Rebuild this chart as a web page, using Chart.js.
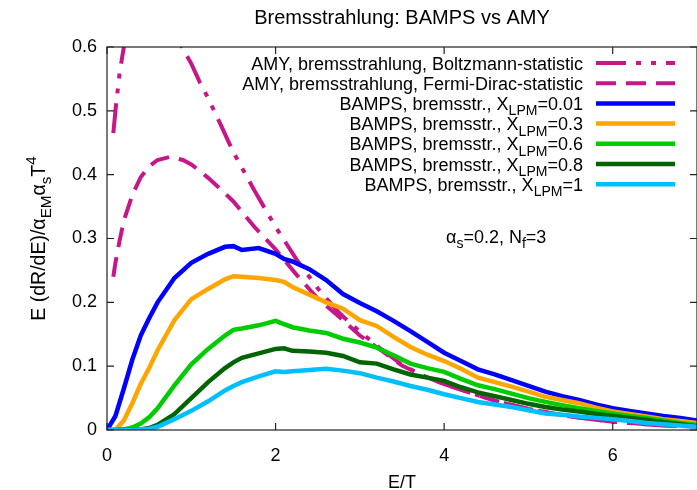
<!DOCTYPE html>
<html>
<head>
<meta charset="utf-8">
<script src="https://cdn.jsdelivr.net/npm/chart.js@4.4.0/dist/chart.umd.min.js"></script>
<style>
  body { margin: 0; background: #fff; }
  canvas { display: block; }
</style>
</head>
<body>
<canvas id="chart" width="697" height="490"></canvas>
<script>
// E/T grid of the BAMPS runs
const eBamps = [0.0, 0.1, 0.2, 0.3, 0.4, 0.5, 0.6, 0.8, 1.0, 1.2, 1.4, 1.5, 1.6, 1.8, 2.0, 2.1, 2.2, 2.4, 2.6, 2.8, 3.0,
                3.2, 3.4, 3.6, 3.8, 4.0, 4.2, 4.4, 4.6, 4.8, 5.0, 5.2, 5.4, 5.6, 5.8, 6.0, 6.2, 6.4, 6.6, 6.8, 7.0];
const bamps001 = [0.0, 0.022, 0.065, 0.110, 0.148, 0.175, 0.200, 0.238, 0.262, 0.276, 0.287, 0.288, 0.282, 0.285, 0.276, 0.268,
                  0.264, 0.252, 0.235, 0.213, 0.199, 0.186, 0.171, 0.155, 0.138, 0.121, 0.108, 0.095, 0.087, 0.078, 0.069, 0.060,
                  0.053, 0.047, 0.040, 0.034, 0.030, 0.026, 0.022, 0.019, 0.015];
const bamps03 = [0.0, 0.0, 0.015, 0.042, 0.072, 0.097, 0.125, 0.172, 0.205, 0.221, 0.236, 0.241, 0.240, 0.238, 0.235, 0.232,
                 0.224, 0.212, 0.200, 0.190, 0.172, 0.163, 0.146, 0.130, 0.118, 0.108, 0.096, 0.082, 0.075, 0.068, 0.060, 0.052,
                 0.047, 0.042, 0.035, 0.029, 0.025, 0.021, 0.017, 0.014, 0.011];
const bamps06 = [0.0, 0.0, 0.001, 0.004, 0.010, 0.020, 0.034, 0.070, 0.103, 0.127, 0.148, 0.157, 0.159, 0.164, 0.171, 0.166,
                 0.161, 0.156, 0.152, 0.143, 0.137, 0.129, 0.117, 0.104, 0.097, 0.091, 0.080, 0.070, 0.064, 0.057, 0.050, 0.044,
                 0.039, 0.034, 0.030, 0.026, 0.022, 0.019, 0.015, 0.011, 0.008];
const bamps08 = [0.0, 0.0, 0.0, 0.0, 0.001, 0.003, 0.008, 0.025, 0.050, 0.075, 0.097, 0.106, 0.113, 0.120, 0.127, 0.128,
                 0.124, 0.123, 0.121, 0.116, 0.106, 0.104, 0.095, 0.087, 0.082, 0.077, 0.067, 0.059, 0.053, 0.047, 0.041, 0.036,
                 0.032, 0.029, 0.025, 0.022, 0.019, 0.016, 0.012, 0.009, 0.006];
const bamps1 = [0.0, 0.0, 0.0, 0.0, 0.001, 0.002, 0.005, 0.017, 0.030, 0.045, 0.062, 0.069, 0.075, 0.084, 0.092, 0.091,
                0.092, 0.094, 0.096, 0.093, 0.089, 0.082, 0.076, 0.069, 0.063, 0.056, 0.050, 0.044, 0.040, 0.036, 0.031, 0.026,
                0.024, 0.021, 0.019, 0.017, 0.014, 0.011, 0.009, 0.007, 0.005];

// AMY curves
const eAmy = [0.075, 0.1, 0.15, 0.2, 0.3, 0.4, 0.5, 0.6, 0.75, 0.9, 1.0, 1.1, 1.2, 1.35, 1.5, 1.75, 2.0, 2.25, 2.5, 2.75,
              3.0, 3.25, 3.5, 3.75, 4.0, 4.25, 4.5, 4.75, 5.0, 5.5, 6.0, 6.5, 7.0];
const amyBoltzmann = [0.465, 0.50, 0.56, 0.60, 0.645, 0.665, 0.672, 0.665, 0.635, 0.597, 0.574, 0.545, 0.52, 0.478, 0.435,
                      0.375, 0.318, 0.267, 0.222, 0.184, 0.154, 0.127, 0.102, 0.085, 0.072, 0.061, 0.050, 0.041, 0.033,
                      0.021, 0.013, 0.008, 0.005];
const amyFermi = [0.24, 0.262, 0.297, 0.328, 0.368, 0.396, 0.413, 0.423, 0.428, 0.423, 0.416, 0.406, 0.395, 0.377, 0.358,
                  0.318, 0.283, 0.243, 0.206, 0.178, 0.148, 0.125, 0.101, 0.085, 0.072, 0.061, 0.050, 0.041, 0.033,
                  0.021, 0.013, 0.008, 0.005];

const xTicks = [0, 2, 4, 6];
const yTicks = [0, 0.1, 0.2, 0.3, 0.4, 0.5, 0.6];

const FONT = '"Liberation Sans", Arial, Helvetica, sans-serif';
const MAGENTA = '#c8168a';

function pts(xs, ys) {
    let out = [];
    for (let i = 0; i < xs.length; i++) out.push({x: xs[i], y: ys[i]});
    return out;
}

function line(label, xs, ys, color, width, dash, order) {
    return {
        label: label,
        data: pts(xs, ys),
        borderColor: color,
        backgroundColor: color,
        borderWidth: width,
        borderDash: dash,
        pointRadius: 0,
        tension: 0,
        fill: false,
        order: order
    };
}

// split "_{..}" / "^{..}" into pieces
function parts(str) {
    let out = [], re = /([_^])\{([^}]*)\}/g, last = 0, m;
    while ((m = re.exec(str))) {
        if (m.index > last) out.push({t: str.slice(last, m.index), k: 0});
        out.push({t: m[2], k: m[1] === '_' ? 1 : -1});
        last = re.lastIndex;
    }
    if (last < str.length) out.push({t: str.slice(last), k: 0});
    return out;
}

function drawRich(ctx, str, x, y, size, align) {
    let ps = parts(str);
    let w = 0;
    ps.forEach(p => {
        ctx.font = (p.k ? size * 0.78 : size) + 'px ' + FONT;
        p.w = ctx.measureText(p.t).width;
        w += p.w;
    });
    let cx = align === 'right' ? x - w : (align === 'center' ? x - w / 2 : x);
    ctx.textAlign = 'left';
    ctx.textBaseline = 'alphabetic';
    ps.forEach(p => {
        ctx.font = (p.k ? size * 0.78 : size) + 'px ' + FONT;
        let dy = p.k > 0 ? size * 0.3 : (p.k < 0 ? -size * 0.45 : 0);
        ctx.fillText(p.t, cx, y + dy);
        cx += p.w;
    });
}

const decor = {
    id: 'decor',
    afterDatasetsDraw(chart) {
        const ctx = chart.ctx, a = chart.chartArea;
        const xs = chart.scales.x, ys = chart.scales.y;
        ctx.save();
        ctx.strokeStyle = '#222';
        ctx.lineWidth = 1.2;
        ctx.setLineDash([]);
        ctx.strokeRect(a.left, a.top, a.right - a.left, a.bottom - a.top);
        ctx.beginPath();
        xTicks.forEach(v => {
            let px = xs.getPixelForValue(v);
            ctx.moveTo(px, a.bottom); ctx.lineTo(px, a.bottom - 7);
            ctx.moveTo(px, a.top); ctx.lineTo(px, a.top + 7);
        });
        yTicks.forEach(v => {
            let py = ys.getPixelForValue(v);
            ctx.moveTo(a.left, py); ctx.lineTo(a.left + 7, py);
            ctx.moveTo(a.right, py); ctx.lineTo(a.right - 7, py);
        });
        ctx.stroke();
        ctx.restore();
    },
    afterDraw(chart) {
        const ctx = chart.ctx, a = chart.chartArea;
        const cx = (a.left + a.right) / 2;
        ctx.save();
        ctx.fillStyle = '#000';
        drawRich(ctx, 'Bremsstrahlung: BAMPS vs AMY', cx, 24, 20, 'center');
        drawRich(ctx, 'E/T', cx, 488, 18, 'center');
        drawRich(ctx, '\u03b1_{s}=0.2, N_{f}=3', 446, 243, 18, 'left');

        ctx.save();
        ctx.translate(45, (a.top + a.bottom) / 2);
        ctx.rotate(-Math.PI / 2);
        drawRich(ctx, 'E (dR/dE)/\u03b1_{EM}\u03b1_{s}T^{4}', 0, 0, 19.5, 'center');
        ctx.restore();

        // key
        chart.data.datasets.forEach((ds, i) => {
            let yc = 63 + i * 20.2;
            ctx.fillStyle = '#000';
            drawRich(ctx, ds.label, 583, yc + 6.5, 18, 'right');
            ctx.beginPath();
            ctx.strokeStyle = ds.borderColor;
            ctx.lineWidth = ds.borderWidth;
            ctx.setLineDash(ds.borderDash || []);
            ctx.moveTo(596, yc);
            ctx.lineTo(675, yc);
            ctx.stroke();
        });
        ctx.restore();
    }
};

new Chart(document.getElementById('chart'), {
    type: 'line',
    data: {
        datasets: [
            line('AMY, bremsstrahlung, Boltzmann-statistic', eAmy, amyBoltzmann, MAGENTA, 4, [30, 10, 5, 10, 5, 10], 10),
            line('AMY, bremsstrahlung, Fermi-Dirac-statistic', eAmy, amyFermi, MAGENTA, 4, [20, 10], 9),
            line('BAMPS, bremsstr., X_{LPM}=0.01', eBamps, bamps001, '#0000ff', 4.5, [], 8),
            line('BAMPS, bremsstr., X_{LPM}=0.3', eBamps, bamps03, '#ffa500', 4.5, [], 7),
            line('BAMPS, bremsstr., X_{LPM}=0.6', eBamps, bamps06, '#00cc00', 4.5, [], 6),
            line('BAMPS, bremsstr., X_{LPM}=0.8', eBamps, bamps08, '#006400', 4.5, [], 5),
            line('BAMPS, bremsstr., X_{LPM}=1', eBamps, bamps1, '#00bfff', 4.5, [], 4)
        ]
    },
    options: {
        responsive: false,
        animation: false,
        devicePixelRatio: 1,
        layout: { padding: { top: 47, left: 0, right: -1, bottom: 0 } },
        plugins: {
            legend: { display: false },
            title: { display: false },
            tooltip: { enabled: false }
        },
        scales: {
            x: {
                type: 'linear',
                min: 0,
                max: 7,
                grid: { display: false, drawTicks: false },
                border: { display: false },
                afterFit: function(scale) { scale.height = 60; },
                afterBuildTicks: function(scale) { scale.ticks = xTicks.map(v => ({value: v})); },
                ticks: {
                    padding: 15,
                    color: '#000',
                    font: { family: FONT, size: 18 }
                }
            },
            y: {
                type: 'linear',
                min: 0,
                max: 0.6,
                grid: { display: false, drawTicks: false },
                border: { display: false },
                afterFit: function(scale) { scale.width = 107; },
                afterBuildTicks: function(scale) { scale.ticks = yTicks.map(v => ({value: v})); },
                ticks: {
                    padding: 10,
                    color: '#000',
                    font: { family: FONT, size: 18 },
                    callback: function(v) { return String(Math.round(v * 10) / 10); }
                }
            }
        }
    },
    plugins: [decor]
});
</script>
</body>
</html>
